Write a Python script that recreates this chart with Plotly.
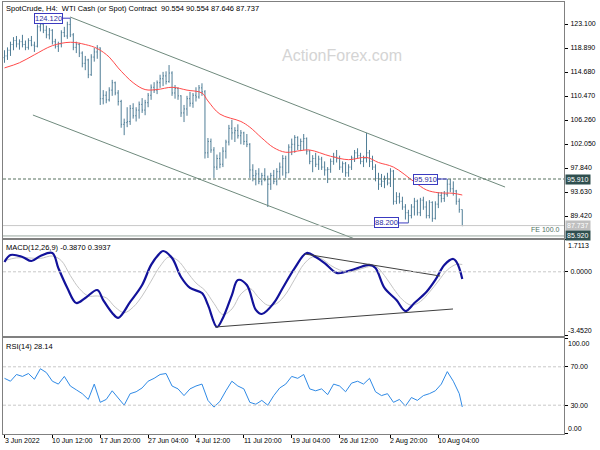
import plotly.graph_objects as go

# ---------------- data ----------------
bar_index = list(range(154))
highs = [118.5, 119.0, 120.0, 120.8, 121.0, 120.4, 121.2, 120.2, 120.6, 121.0,
         120.0, 123.0, 123.8, 123.5, 122.8, 122.4, 122.2, 120.5, 120.0, 122.0,
         122.6, 123.5, 124.12, 121.5, 120.0, 119.8, 118.3, 117.5, 117.0, 117.8,
         118.9, 119.4, 119.0, 111.5, 111.3, 112.0, 113.3, 113.0, 111.5, 109.8,
         106.5, 108.5, 108.9, 109.2, 108.5, 109.5, 110.1, 109.8, 111.0, 112.5,
         112.9, 113.2, 114.2, 114.7, 114.8, 115.9, 114.8, 112.4, 112.0, 110.6,
         108.9, 110.5, 111.2, 111.0, 112.0, 112.4, 112.7, 111.5, 103.1, 103.0,
         101.5, 100.2, 100.6, 101.5, 102.8, 105.4, 106.3, 105.0, 105.5, 104.5,
         104.2, 103.8, 102.2, 98.5, 97.5, 97.8, 97.0, 97.8, 96.5, 97.0,
         97.5, 97.8, 98.8, 100.1, 100.0, 102.0, 103.0, 103.6, 103.4, 103.0,
         103.8, 103.2, 101.0, 100.1, 100.5, 100.0, 99.8, 99.0, 98.0, 99.5,
         100.5, 101.0, 100.0, 99.0, 98.9, 98.5, 100.0, 101.0, 101.3, 100.5,
         100.0, 104.0, 101.0, 100.0, 98.5, 97.0, 96.8, 96.5, 97.0, 97.8,
         97.5, 93.6, 93.5, 92.8, 91.5, 90.5, 91.5, 92.6, 92.3, 92.6,
         92.8, 92.0, 92.2, 92.0, 92.0, 93.6, 93.6, 93.8, 95.91, 95.9,
         95.5, 94.0, 92.5, 90.554]
lows = [116.3, 116.8, 117.5, 118.5, 119.0, 118.6, 119.0, 118.5, 118.6, 119.2,
        118.2, 119.0, 121.8, 121.5, 120.6, 120.4, 119.5, 118.8, 118.2, 119.0,
        120.8, 120.5, 120.8, 118.5, 118.0, 117.3, 115.5, 115.0, 113.6, 114.0,
        116.5, 117.0, 108.9, 109.0, 109.2, 109.5, 110.5, 110.6, 108.8, 104.9,
        103.6, 105.0, 105.4, 106.5, 106.0, 106.5, 107.5, 107.1, 108.5, 109.8,
        111.0, 110.8, 111.9, 112.2, 112.5, 112.8, 110.5, 110.0, 109.8, 106.8,
        105.9, 107.0, 108.6, 108.4, 109.5, 110.0, 110.5, 99.5, 99.6, 100.5,
        96.1, 97.5, 97.8, 98.0, 99.5, 101.8, 102.8, 102.4, 103.0, 102.0,
        101.9, 101.5, 96.1, 95.5, 94.8, 95.0, 94.8, 95.5, 91.0, 94.0,
        95.0, 94.8, 96.0, 96.5, 96.1, 97.0, 100.1, 100.5, 101.0, 100.8,
        101.0, 100.2, 98.5, 97.1, 98.0, 97.5, 97.5, 96.5, 95.2, 97.0,
        98.4, 98.8, 97.5, 97.0, 96.3, 96.3, 97.5, 98.9, 99.5, 98.5,
        98.0, 98.8, 98.0, 97.5, 95.5, 94.0, 94.5, 94.3, 94.8, 94.5,
        91.4, 91.5, 91.6, 90.5, 88.8, 88.2, 89.0, 89.5, 89.5, 89.4,
        90.5, 89.0, 89.0, 88.4, 88.8, 90.8, 91.8, 91.9, 92.8, 93.6,
        93.0, 91.4, 90.0, 87.646]
closes = [117.5, 118.5, 119.5, 120.2, 119.6, 120.0, 119.5, 119.0, 120.2, 119.4,
          119.2, 122.6, 123.0, 122.0, 121.2, 122.0, 120.0, 119.2, 119.6, 121.6,
          121.0, 123.0, 121.2, 119.0, 119.5, 118.0, 116.2, 116.8, 114.2, 117.3,
          118.2, 118.9, 110.0, 110.6, 109.8, 111.5, 112.8, 111.0, 109.5, 105.5,
          105.8, 106.0, 108.3, 107.0, 108.0, 109.0, 108.0, 109.3, 110.6, 112.0,
          111.5, 112.8, 113.5, 114.0, 113.0, 114.5, 111.0, 111.8, 110.5, 107.5,
          108.2, 110.0, 109.2, 110.6, 110.3, 111.9, 111.2, 100.5, 102.5, 101.0,
          98.0, 99.5, 98.5, 100.8, 102.4, 104.8, 104.0, 104.4, 103.5, 104.0,
          102.5, 102.0, 97.5, 96.5, 96.8, 95.5, 96.5, 95.8, 95.0, 96.5,
          95.5, 97.2, 98.0, 99.5, 97.0, 101.5, 102.0, 103.2, 101.8, 102.5,
          103.0, 100.8, 99.0, 99.5, 98.5, 99.4, 98.0, 97.5, 97.6, 99.0,
          99.8, 99.5, 98.0, 98.6, 97.0, 98.0, 99.6, 100.5, 100.0, 99.0,
          99.5, 100.5, 99.0, 98.0, 96.0, 95.0, 95.5, 96.0, 95.2, 97.3,
          92.0, 92.8, 92.0, 91.0, 90.0, 89.5, 91.0, 92.0, 90.0, 92.2,
          91.0, 89.5, 91.8, 89.0, 91.5, 93.0, 92.5, 93.2, 95.0, 94.2,
          93.8, 92.0, 90.554, 87.737]
first_open = 117.2
opens = [first_open] + closes[:-1]

ma_index = [0, 5, 10, 16, 22, 27, 31, 35, 38, 43, 47, 51, 56, 61, 66, 68, 72, 79,
            82, 86, 90, 94, 99, 102, 109, 115, 121, 125, 130, 137, 141, 145, 150, 153]
ma_values = [115.4, 116.3, 117.7, 119.3, 119.9, 119.5, 118.8, 117.3, 115.4, 112.8,
             111.6, 111.6, 112.0, 111.5, 111.0, 109.6, 107.3, 106.0, 105.0, 103.1,
             101.4, 100.6, 100.9, 101.0, 99.9, 99.3, 99.7, 98.8, 98.0, 95.4,
             94.0, 93.5, 93.4, 93.1]

upper_channel_index = [21.9, 167.3]
upper_channel_values = [124.33, 94.50]
lower_channel_index = [9.5, 120.0]
lower_channel_values = [107.13, 84.80]

macd_index = [0, 2, 6, 9, 12, 16, 18, 21, 24, 27, 31, 33, 36, 38, 42, 46, 49, 52,
              53, 56, 59, 62, 66, 68, 71, 73, 76, 78, 81, 84, 86, 90, 93, 97, 101,
              104, 107, 111, 114, 118, 122, 124, 127, 131, 134, 137, 141, 144, 147,
              150, 151, 152, 153]
macd_values = [0.53, 0.90, 0.80, 0.58, 0.85, 1.01, 0.20, -0.87, -1.68, -1.41,
               -0.98, -1.52, -2.21, -2.48, -1.62, -0.71, 0.37, 1.01, 1.12, 0.74,
               -0.28, -0.87, -1.14, -1.78, -2.97, -2.48, -1.25, -0.44, -0.71, -2.05,
               -2.27, -1.68, -0.87, 0.20, 1.01, 0.80, 0.47, -0.06, 0.00, 0.20,
               0.37, 0.20, -0.87, -1.52, -2.11, -1.68, -1.09, -0.44, 0.37, 0.69,
               0.55, 0.20, -0.387]
signal_index = [0, 4, 8, 12, 16, 19, 22, 25, 28, 31, 34, 37, 40, 43, 46, 49, 52, 55,
                58, 61, 64, 67, 70, 73, 76, 79, 82, 85, 88, 91, 94, 97, 100, 103,
                106, 109, 112, 115, 118, 121, 124, 127, 130, 133, 136, 139, 142,
                145, 148, 151, 153]
signal_values = [0.60, 0.75, 0.75, 0.72, 0.85, 0.60, -0.20, -0.90, -1.30, -1.30,
                 -1.40, -1.90, -2.20, -1.90, -1.30, -0.50, 0.30, 0.80, 0.60, 0.00,
                 -0.60, -1.00, -1.70, -2.30, -2.00, -1.20, -0.90, -1.40, -1.80, -1.70,
                 -1.20, -0.40, 0.40, 0.80, 0.70, 0.35, 0.10, 0.00, 0.10, 0.25,
                 0.30, -0.20, -0.90, -1.50, -1.80, -1.60, -1.10, -0.50, 0.10, 0.40,
                 0.3937]
macd_upper_index = [100.4, 145.6]
macd_upper_values = [0.957, -0.226]
macd_lower_index = [70.4, 149.9]
macd_lower_values = [-2.97, -2.00]

rsi_index = list(range(0, 154, 2)) + [153]
rsi_values = [58, 55, 62, 60, 63, 57, 68, 64, 55, 52,
              60, 50, 46, 42, 36, 52, 33, 36, 45, 38,
              30, 42, 44, 48, 55, 58, 62, 63, 50, 47,
              40, 47, 50, 52, 35, 28, 34, 45, 55, 50,
              47, 33, 31, 35, 30, 40, 48, 52, 60, 58,
              62, 47, 45, 47, 41, 52, 50, 44, 53, 55,
              52, 58, 44, 40, 42, 33, 36, 29, 38, 35,
              40, 42, 45, 52, 65, 55, 42, 28.14]

price_ticks = [123.100, 118.890, 114.680, 110.470, 106.260, 102.050, 97.840, 93.630, 89.420]
date_tick_index = [0, 16, 32, 48, 64, 80, 96, 112, 129, 145]
date_tick_text = ["3 Jun 2022", "10 Jun 12:00", "17 Jun 20:00", "27 Jun 04:00", "4 Jul 12:00",
                  "11 Jul 20:00", "19 Jul 04:00", "26 Jul 12:00", "2 Aug 20:00", "10 Aug 04:00"]
resistance_level = 95.910
current_price = 87.737
fe_level = 85.920
header_text = "SpotCrude, H4:  WTI Cash (or Spot) Contract  90.554 90.554 87.646 87.737"
macd_text = "MACD(12,26,9) -0.3870 0.3937"
rsi_text = "RSI(14) 28.14"

# ---------------- figure ----------------
FONT = "Liberation Sans, Arial, sans-serif"
BAR = "#4f7d96"
FRAME = "#808080"
CHAN = "#6f8a7d"

fig = go.Figure()
fig.add_trace(go.Ohlc(x=bar_index, open=opens, high=highs, low=lows, close=closes,
                      increasing=dict(line=dict(color=BAR, width=1)),
                      decreasing=dict(line=dict(color=BAR, width=1)),
                      tickwidth=0.3, xaxis="x", yaxis="y", hoverinfo="skip"))
fig.add_trace(go.Scatter(x=ma_index, y=ma_values, mode="lines", line=dict(color="#ff4a4a", width=1, shape="spline"),
                         xaxis="x", yaxis="y"))
fig.add_trace(go.Scatter(x=upper_channel_index, y=upper_channel_values, mode="lines",
                         line=dict(color=CHAN, width=1), xaxis="x", yaxis="y"))
fig.add_trace(go.Scatter(x=lower_channel_index, y=lower_channel_values, mode="lines",
                         line=dict(color=CHAN, width=1), xaxis="x", yaxis="y"))

fig.add_trace(go.Scatter(x=signal_index, y=signal_values, mode="lines",
                         line=dict(color="#c4c4c4", width=1, shape="spline"), xaxis="x2", yaxis="y2"))
fig.add_trace(go.Scatter(x=macd_index, y=macd_values, mode="lines",
                         line=dict(color="#12129a", width=2.2, shape="spline"), xaxis="x2", yaxis="y2"))
fig.add_trace(go.Scatter(x=macd_upper_index, y=macd_upper_values, mode="lines",
                         line=dict(color="#404040", width=1), xaxis="x2", yaxis="y2"))
fig.add_trace(go.Scatter(x=macd_lower_index, y=macd_lower_values, mode="lines",
                         line=dict(color="#404040", width=1), xaxis="x2", yaxis="y2"))

fig.add_trace(go.Scatter(x=rsi_index, y=rsi_values, mode="lines",
                         line=dict(color="#2f8ae6", width=1), xaxis="x3", yaxis="y3"))

main_dom = [0.4537, 1.0]
macd_dom = [0.2269, 0.4491]
rsi_dom = [0.0, 0.2222]

xcommon = dict(range=[-0.5, 187], showgrid=False, zeroline=False, showline=True, mirror=True,
               linecolor=FRAME, linewidth=1, fixedrange=True, automargin=False)
ycommon = dict(side="right", showgrid=False, zeroline=False, showline=True, mirror=True,
               linecolor=FRAME, linewidth=1, ticks="outside", ticklen=3, tickcolor="#000",
               ticklabelstandoff=1, automargin=False,
               tickfont=dict(family=FONT, size=7, color="#000"), fixedrange=True)

fig.update_layout(
    width=600, height=450, margin=dict(l=3, r=36, t=2, b=16),
    paper_bgcolor="white", plot_bgcolor="white", showlegend=False,
    font=dict(family=FONT, size=7, color="#000"),
    xaxis=dict(**xcommon, anchor="y", showticklabels=False, ticks="", rangeslider=dict(visible=False)),
    xaxis2=dict(**xcommon, anchor="y2", matches="x", showticklabels=False, ticks=""),
    xaxis3=dict(**xcommon, anchor="y3", matches="x", showticklabels=False, ticks="outside",
                ticklen=3, tickcolor="#000", tickvals=date_tick_index),
    yaxis=dict(**ycommon, domain=main_dom, range=[85.56, 126.96], anchor="x",
               tickvals=price_ticks, ticktext=[f"{v:.3f}" for v in price_ticks]),
    yaxis2=dict(**ycommon, domain=macd_dom, range=[-3.452, 1.7113], anchor="x2",
                tickvals=[1.7113, 0.0, -3.452], ticktext=["", "0.0000", ""]),
    yaxis3=dict(**ycommon, domain=rsi_dom, range=[0, 100], anchor="x3",
                tickvals=[100, 70, 30, 0], ticktext=["", "70.00", "30.00", ""]),
)

# horizontal levels
fig.add_shape(type="line", xref="x domain", yref="y", x0=0, x1=1, y0=resistance_level, y1=resistance_level,
              line=dict(color="#56705f", width=1, dash="3px,2px"))
fig.add_shape(type="line", xref="x domain", yref="y", x0=0, x1=1, y0=current_price, y1=current_price,
              line=dict(color="#c8c8c8", width=1))
fig.add_shape(type="line", xref="x domain", yref="y", x0=0, x1=1, y0=fe_level, y1=fe_level,
              line=dict(color="#9aa8a0", width=1))
fig.add_shape(type="line", xref="x2 domain", yref="y2", x0=0, x1=1, y0=0, y1=0,
              line=dict(color="#c8c8c8", width=1, dash="3px,2px"))
for lvl in (70, 30):
    fig.add_shape(type="line", xref="x3 domain", yref="y3", x0=0, x1=1, y0=lvl, y1=lvl,
                  line=dict(color="#c8c8c8", width=1, dash="3px,2px"))

ann = []
# header & indicator labels
ann.append(dict(text=header_text, xref="paper", yref="paper", x=0, y=main_dom[1], xanchor="left",
                yanchor="top", xshift=1, yshift=0, showarrow=False, font=dict(size=7.5, color="#000")))
ann.append(dict(text=macd_text, xref="paper", yref="paper", x=0, y=macd_dom[1], xanchor="left",
                yanchor="top", xshift=1, yshift=-1, showarrow=False, font=dict(size=7.5, color="#000")))
ann.append(dict(text=rsi_text, xref="paper", yref="paper", x=0, y=rsi_dom[1], xanchor="left",
                yanchor="top", xshift=1, yshift=-2, showarrow=False, font=dict(size=7.5, color="#000")))
# watermark
ann.append(dict(text="ActionForex.com", xref="paper", yref="paper", x=0.604, y=0.9, showarrow=False,
                font=dict(size=16, color="#d4d4d4")))
# x labels
for i, t in zip(date_tick_index, date_tick_text):
    ann.append(dict(text=t, xref="x3", yref="paper", x=i, y=0, xanchor="left", yanchor="top",
                    xshift=-2, yshift=-1, showarrow=False, font=dict(size=7, color="#000")))
# edge labels of indicator axes
for txt, yr, val, anc in [("1.7113", "y2", 1.7113, "top"), ("-3.4520", "y2", -3.452, "bottom"),
                          ("100.00", "y3", 100, "top"), ("0.00", "y3", 0, "bottom")]:
    ann.append(dict(text=txt, xref="paper", yref=yr, x=1, y=val, xanchor="left", yanchor=anc,
                    xshift=2, showarrow=False, font=dict(size=7, color="#000")))
# right-axis price boxes
for val, bg in [(resistance_level, "#2f4f4f"), (current_price, "#c0c0c0"), (fe_level, "#2f4f4f")]:
    ann.append(dict(text=f"{val:.3f}", xref="paper", yref="y", x=1, y=val, xanchor="left", yanchor="middle",
                    xshift=1, showarrow=False, bgcolor=bg, borderpad=1, font=dict(size=7, color="white")))
ann.append(dict(text="FE 100.0", xref="paper", yref="y", x=1, y=fe_level, xanchor="right", yanchor="bottom",
                xshift=-2, yshift=1, showarrow=False, font=dict(size=7, color="#4f6f5f")))
# high / low labels on chart
hi_i = highs.index(max(highs))
recent_lows = lows[120:153]
lo_i = 120 + recent_lows.index(min(recent_lows))
rh_i = 148
for i, v in [(hi_i, highs[hi_i]), (lo_i, lows[lo_i]), (rh_i, highs[rh_i])]:
    ann.append(dict(text=f"{v:.3f}", xref="x", yref="y", x=i, y=v, showarrow=True, arrowhead=0,
                    arrowwidth=1, arrowcolor="#3a3ac0", ax=-22, ay=0, standoff=0,
                    bgcolor="white", bordercolor="#3a3ac0", borderwidth=1, borderpad=0,
                    font=dict(size=7.5, color="#2a2aa0")))

fig.update_layout(annotations=ann)
fig.write_html("out.html", config={"displayModeBar": False},
               post_script="document.body.style.margin='0px';document.body.style.padding='0px';")
